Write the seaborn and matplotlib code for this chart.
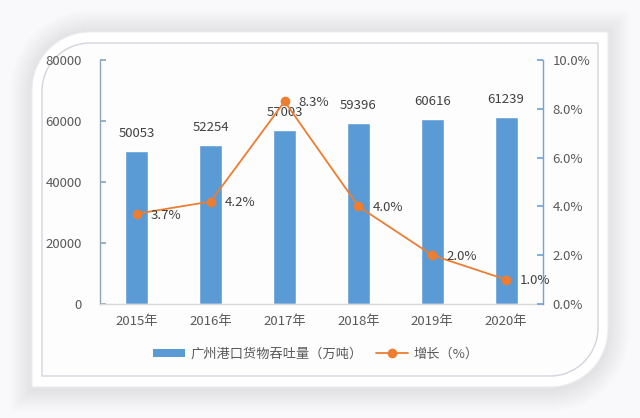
import numpy as np
import pandas as pd
import matplotlib
matplotlib.use("Agg")
import matplotlib.pyplot as plt
import seaborn as sns
from matplotlib.path import Path
from matplotlib.patches import PathPatch, Patch
from matplotlib.lines import Line2D
from matplotlib.ticker import FuncFormatter

years = ["2015年", "2016年", "2017年", "2018年", "2019年", "2020年"]
throughput = [50053, 52254, 57003, 59396, 60616, 61239]
growth = [3.7, 4.2, 8.3, 4.0, 2.0, 1.0]
bar_label = "广州港口货物吞吐量（万吨）"
line_label = "增长（%）"

sns.set_theme(style="white")
plt.rcParams["font.family"] = ["Noto Sans CJK SC", "DejaVu Sans"]

BLUE = "#5b9bd5"
ORANGE = "#ed7d31"
TXT = "#595959"

W, H = 640, 418
fig = plt.figure(figsize=(W / 100, H / 100), dpi=100)
fig.patch.set_facecolor("#f9f9fb")

# background card drawn in pixel coords
bg = fig.add_axes([0, 0, 1, 1], zorder=0)
bg.set_xlim(0, W)
bg.set_ylim(H, 0)
bg.axis("off")


def shape(x0, y0, x1, y1, r):
    k = 0.5523 * r
    verts = [
        (x0 + r, y0), (x1, y0), (x1, y1 - r),
        (x1, y1 - r + k), (x1 - r + k, y1), (x1 - r, y1),
        (x0, y1), (x0, y0 + r),
        (x0, y0 + r - k), (x0 + r - k, y0), (x0 + r, y0),
        (x0 + r, y0),
    ]
    codes = [Path.MOVETO, Path.LINETO, Path.LINETO,
             Path.CURVE4, Path.CURVE4, Path.CURVE4,
             Path.LINETO, Path.LINETO,
             Path.CURVE4, Path.CURVE4, Path.CURVE4,
             Path.CLOSEPOLY]
    return Path(verts, codes)


for i in range(22, 0, -1):
    bg.add_patch(PathPatch(shape(32 - i, 32 - i, 608 + i, 387 + i + 3, 58 + i),
                           facecolor="#000000", edgecolor="none", alpha=0.005))
bg.add_patch(PathPatch(shape(32, 32, 608, 387, 58), facecolor="#ffffff",
                       edgecolor="#ececf0", lw=0.8))
bg.add_patch(PathPatch(shape(42, 43, 598, 376, 48), facecolor="#fdfdfe",
                       edgecolor="#d4d4dc", lw=1.0))

# main axes
ax = fig.add_axes([100 / W, 1 - 304 / H, 443 / W, 244 / H], zorder=2)
ax.patch.set_alpha(0)
df = pd.DataFrame({"year": years, "v": throughput})
sns.barplot(data=df, x="year", y="v", color=BLUE, saturation=1, width=0.31, ax=ax)
ax.set_xlim(-0.5, 5.5)
ax.set_ylim(0, 80000)
ax.set_yticks(np.arange(0, 80001, 20000))
ax.set_xlabel("")
ax.set_ylabel("")
for sp in ["top", "right"]:
    ax.spines[sp].set_visible(False)
ax.spines["left"].set_color("#8fa6bd")
ax.spines["left"].set_linewidth(1.0)
ax.spines["bottom"].set_color("#d9d9d9")
ax.spines["bottom"].set_linewidth(1.0)
ax.tick_params(axis="y", direction="in", length=4, color="#8fa6bd", pad=13,
               labelsize=9.5, labelcolor=TXT, left=True)
ax.tick_params(axis="x", length=0, pad=8, labelsize=9.5, labelcolor=TXT)

for i, v in enumerate(throughput):
    ax.annotate(f"{v}", (i, v), xytext=(0, 8), textcoords="offset points",
                ha="center", va="bottom", fontsize=9.5, color="#404040")

ax2 = ax.twinx()
ax2.set_zorder(3)
sns.lineplot(x=np.arange(len(growth)), y=growth, ax=ax2, color=ORANGE,
             marker="o", markersize=7, markeredgewidth=0, linewidth=1.3)
ax2.set_ylim(0, 10)
ax2.set_yticks(np.arange(0, 10.01, 2))
ax2.yaxis.set_major_formatter(FuncFormatter(lambda v, p: f"{v:.1f}%"))
ax2.set_xlim(-0.5, 5.5)
for sp in ["top", "left", "bottom"]:
    ax2.spines[sp].set_visible(False)
ax2.spines["right"].set_color("#6fa6d8")
ax2.spines["right"].set_linewidth(1.0)
ax2.tick_params(axis="y", direction="in", length=4, color="#6fa6d8", pad=7,
                labelsize=9.5, labelcolor=TXT, right=True)
ax2.set_ylabel("")
for i, g in enumerate(growth):
    ax2.annotate(f"{g:.1f}%", (i, g), xytext=(10, -1), textcoords="offset points",
                 ha="left", va="center", fontsize=9.5, color="#404040")

handles = [Patch(facecolor=BLUE, edgecolor="none"),
           Line2D([0], [0], color=ORANGE, marker="o", markersize=7,
                  markeredgewidth=0, linewidth=1.3)]
fig.legend(handles, [bar_label, line_label], loc="center",
           bbox_to_anchor=(316 / W, 1 - 354 / H), ncol=2, frameon=False,
           fontsize=9.5, handlelength=2.4, handleheight=0.6, columnspacing=1.0,
           handletextpad=0.45, labelcolor=TXT)

fig.savefig("out.png", dpi=100, facecolor=fig.get_facecolor())
